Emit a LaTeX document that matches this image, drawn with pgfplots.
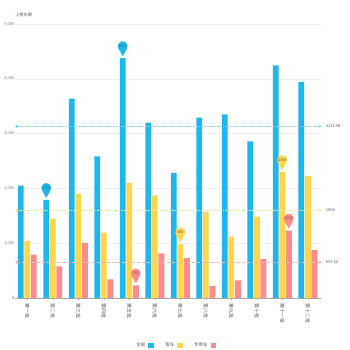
\documentclass[border=0pt]{standalone}
\usepackage{fontspec}
\setmainfont{Noto Sans CJK SC}
\usepackage{pgfplots}
\pgfplotsset{compat=1.18}
\usetikzlibrary{arrows.meta}
\definecolor{cblue}{RGB}{30,182,235}
\definecolor{cyellow}{RGB}{255,213,76}
\definecolor{cpink}{RGB}{255,140,140}
\definecolor{tgray}{RGB}{120,120,120}
\definecolor{dgray}{RGB}{90,90,90}
\pgfdeclareplotmark{pin}{%
  \pgfpathmoveto{\pgfpoint{0pt}{2pt}}%
  \pgfpathlineto{\pgfpointadd{\pgfpoint{0pt}{12pt}}{\pgfpointpolar{-28}{4.9pt}}}%
  \pgfpatharc{-28}{208}{4.9pt}%
  \pgfpathclose
  \pgfusepathqfill
}
\begin{document}
\begin{tikzpicture}
\path[use as bounding box] (-14.5pt,-52pt) rectangle (335.5pt,298pt);
\begin{axis}[
  at={(0,0)}, anchor=south west,
  scale only axis, width=306pt, height=274pt,
  xmin=-0.5, xmax=11.5, ymin=0, ymax=5000,
  clip=false,
  axis x line*=bottom, axis y line*=left,
  y axis line style={draw=none},
  x axis line style={draw=gray!70},
  xtick={0,...,11},
  xticklabels={第一批,第二批,第三批,第四批,第五批,第六批,第七批,第八批,第九批,第十批,第十一批,第十二批},
  xticklabel style={rotate=-90, anchor=west, font=\fontsize{5}{6}\selectfont, text=dgray, xshift=0pt},
  xtick style={draw=gray!70},
  tick align=outside, major tick length=2pt,
  ytick={0,1000,...,5000},
  ytick style={draw=none},
  yticklabel style={font=\fontsize{4}{5}\selectfont, text=tgray, anchor=east, xshift=2.5pt, inner sep=0.5pt},
  /pgf/number format/.cd, 1000 sep={,}, assume math mode=true,
  /pgfplots/.cd,
  ymajorgrids, grid style={gray!12, line width=0.5pt},
  legend plot pos=right,
  legend columns=3,
  legend style={draw=none, fill=none, at={(rel axis cs:0.5245,-0.1715)}, anchor=center,
    font=\fontsize{4.5}{5}\selectfont, text=dgray,
    /tikz/every even column/.append style={column sep=10pt},
    /tikz/every odd column/.append style={column sep=1pt},
    inner sep=0pt},
]
\addlegendimage{legend image code/.code={\fill[cblue] (0pt,-2.2pt) rectangle (4.5pt,2.2pt);}}
\addlegendentry{全部}
\addlegendimage{legend image code/.code={\fill[cyellow] (0pt,-2.2pt) rectangle (4.5pt,2.2pt);}}
\addlegendentry{客车}
\addlegendimage{legend image code/.code={\fill[cpink] (0pt,-2.2pt) rectangle (4.5pt,2.2pt);}}
\addlegendentry{专用车}

\addplot[ybar, bar width=0.235, bar shift=-0.255, fill=cblue, draw=none, forget plot] coordinates {
(0,2050) (1,1790) (2,3640) (3,2583) (4,4377) (5,3200) (6,2284) (7,3290) (8,3350) (9,2860) (10,4245) (11,3939)};
\addplot[ybar, bar width=0.235, bar shift=0, fill=cyellow, draw=none, forget plot] coordinates {
(0,1040) (1,1450) (2,1900) (3,1195) (4,2100) (5,1875) (6,980) (7,1565) (8,1120) (9,1485) (10,2300) (11,2228)};
\addplot[ybar, bar width=0.235, bar shift=0.255, fill=cpink, draw=none, forget plot] coordinates {
(0,790) (1,575) (2,1005) (3,340) (4,231) (5,815) (6,728) (7,222) (8,321) (9,710) (10,1230) (11,875)};

% average lines
\addplot[cblue!55, densely dotted, line width=0.6pt, mark=*, mark size=1.1pt, mark indices={1}, mark options={solid, fill=cblue, draw=none}, -{Stealth[length=3.5pt,width=3pt,fill=cblue]}, forget plot]
  coordinates {(-0.414,3133.58) (11.55,3133.58)} node[pos=1, anchor=west, xshift=0.5pt, font=\fontsize{4}{5}\selectfont, text=dgray] {3133.58};
\addplot[cyellow!55, densely dotted, line width=0.6pt, mark=*, mark size=1.1pt, mark indices={1}, mark options={solid, fill=cyellow, draw=none}, -{Stealth[length=3.5pt,width=3pt,fill=cyellow]}, forget plot]
  coordinates {(-0.414,1604) (11.55,1604)} node[pos=1, anchor=west, xshift=0.5pt, font=\fontsize{4}{5}\selectfont, text=dgray] {1604};
\addplot[cpink!60, densely dashed, line width=0.5pt, mark=*, mark size=1.1pt, mark indices={1}, mark options={solid, fill=cpink, draw=none}, -{Stealth[length=3.5pt,width=3pt,fill=cpink]}, forget plot]
  coordinates {(-0.414,653.42) (11.55,653.42)} node[pos=1, anchor=west, xshift=0.5pt, font=\fontsize{4}{5}\selectfont, text=dgray] {653.42};

% pins
\addplot[only marks, mark=pin, color=cblue, forget plot, nodes near coords, point meta=explicit symbolic,
  every node near coord/.style={anchor=center, yshift=12pt, font=\fontsize{3.6}{4}\selectfont, text=dgray, inner sep=0pt}]
  coordinates {(3.745,4377)[4377] (0.745,1790)[1790]};
\addplot[only marks, mark=pin, color=cyellow, forget plot, nodes near coords, point meta=explicit symbolic,
  every node near coord/.style={anchor=center, yshift=12pt, font=\fontsize{3.6}{4}\selectfont, text=dgray, inner sep=0pt}]
  coordinates {(10,2300)[2300] (6,980)[980]};
\addplot[only marks, mark=pin, color=cpink, forget plot, nodes near coords, point meta=explicit symbolic,
  every node near coord/.style={anchor=center, yshift=12pt, font=\fontsize{3.6}{4}\selectfont, text=dgray, inner sep=0pt}]
  coordinates {(10.255,1230)[1230] (4.255,231)[231]};

\node[font=\fontsize{4.2}{5}\selectfont, text=dgray] at (rel axis cs:0.03,1.033) {上榜车辆};
\end{axis}
\end{tikzpicture}
\end{document}
